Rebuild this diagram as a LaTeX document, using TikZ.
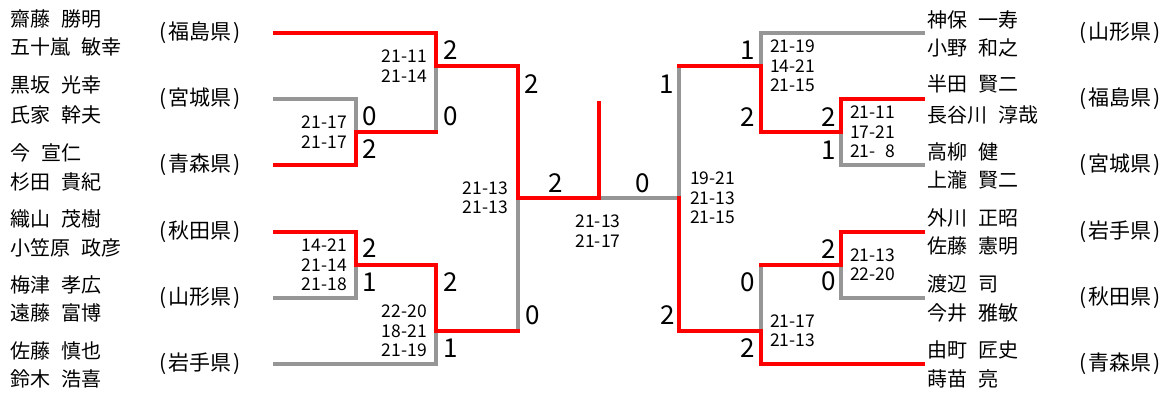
\documentclass[tikz,border=0pt]{standalone}
\usepackage{fontspec}
\setmainfont{Noto Sans CJK JP}
\usepackage{xcolor}
\usepackage{tikz}
\usetikzlibrary{positioning}
\definecolor{wred}{RGB}{255,0,0}
\definecolor{lgray}{RGB}{150,150,150}
\newcommand{\namefont}{\fontsize{20}{22}\selectfont\setlength{\spaceskip}{0.55em}}
\newcommand{\pref}[1]{(\kern2pt#1\kern2pt)}

\begin{document}
\begin{tikzpicture}[x=1pt,y=-1pt,
  won/.style={draw=wred,line width=4pt,line cap=rect},
  lost/.style={draw=lgray,line width=4pt,line cap=rect},
  nm/.style={anchor=west,inner sep=0pt,font=\namefont},
  pf/.style={anchor=west,inner sep=0pt,font=\fontsize{21}{23}\selectfont},
  pts/.style={inner sep=0pt,font=\fontsize{26}{28}\selectfont},
  gs/.style={inner sep=0pt,font=\fontsize{17.5}{19.5}\selectfont},
  gl/.style={gs,align=right}, gr/.style={gs,align=left},
  node distance=9pt]
\useasboundingbox (0,0) rectangle (1171,396);
\coordinate (a1) at (275,33);\coordinate (a2) at (275,99);\coordinate (a3) at (275,165);
\coordinate (a4) at (275,232);\coordinate (a5) at (275,298);\coordinate (a6) at (275,364);
\coordinate (b1) at (923,33);\coordinate (b2) at (923,99);\coordinate (b3) at (923,165);
\coordinate (b4) at (923,232);\coordinate (b5) at (923,298);\coordinate (b6) at (923,364);
\coordinate (m1) at (356,132);\coordinate (m2) at (436,66);
\coordinate (m3) at (356,265);\coordinate (m4) at (436,331);
\coordinate (m5) at (518,198);\coordinate (fn) at (599,198);\coordinate (cup) at (599,103);
\coordinate (m6) at (679,198);\coordinate (m7) at (761,66);\coordinate (m8) at (841,132);
\coordinate (m9) at (841,265);\coordinate (m10) at (761,331);
% losers first, winners on top
\draw[lost](a2)-|(m1);\draw[lost](m1-|m2)--(m2);
\draw[lost](a5)-|(m3);\draw[lost](a6)-|(m4);\draw[lost](m4-|m5)--(m5);
\draw[lost](m6)--(fn);
\draw[lost](b1)-|(m7);\draw[lost](b3)-|(m8);\draw[lost](m6|-m7)--(m6);
\draw[lost](b5)-|(m9);\draw[lost](m9-|m10)--(m10);
\draw[won](a1)-|(m2)-|(m5)--(fn)--(cup);
\draw[won](a3)-|(m1)--(m1-|m2);
\draw[won](a4)-|(m3)-|(m4)--(m4-|m5);
\draw[won](b2)-|(m8)-|(m7)--(m6|-m7);
\draw[won](b4)-|(m9)--(m9-|m10);
\draw[won](b6)-|(m10)-|(m6);
% players
\node[nm] (l1a) at (10,19) {齋藤 勝明};
\node[nm] (l1b) at (10,47) {五十嵐 敏幸};
\node[nm] (l2a) at (10,85) {黒坂 光幸};
\node[nm] (l2b) at (10,115) {氏家 幹夫};
\node[nm] (l3a) at (10,153) {今 宣仁};
\node[nm] (l3b) at (10,182) {杉田 貴紀};
\node[nm] (l4a) at (10,219) {織山 茂樹};
\node[nm] (l4b) at (10,248) {小笠原 政彦};
\node[nm] (l5a) at (10,285) {梅津 孝広};
\node[nm] (l5b) at (10,313) {遠藤 富博};
\node[nm] (l6a) at (10,351) {佐藤 慎也};
\node[nm] (l6b) at (10,379) {鈴木 浩喜};
\node[nm] (r1a) at (927,20) {神保 一寿};
\node[nm] (r1b) at (927,48) {小野 和之};
\node[nm] (r2a) at (927,84) {半田 賢二};
\node[nm] (r2b) at (927,115) {長谷川 淳哉};
\node[nm] (r3a) at (927,152) {高柳 健};
\node[nm] (r3b) at (927,180) {上瀧 賢二};
\node[nm] (r4a) at (927,218) {外川 正昭};
\node[nm] (r4b) at (927,246) {佐藤 憲明};
\node[nm] (r5a) at (927,284) {渡辺 司};
\node[nm] (r5b) at (927,313) {今井 雅敏};
\node[nm] (r6a) at (927,350) {由町 匠史};
\node[nm] (r6b) at (927,379) {蒔苗 亮};
% prefectures
\node[pf] (lp1) at (159,33) {\pref{福島県}};
\node[pf] (lp2) at (159,99) {\pref{宮城県}};
\node[pf] (lp3) at (159,165) {\pref{青森県}};
\node[pf] (lp4) at (159,232) {\pref{秋田県}};
\node[pf] (lp5) at (159,298) {\pref{山形県}};
\node[pf] (lp6) at (159,364) {\pref{岩手県}};
\node[pf] (rp1) at (1079,33) {\pref{山形県}};
\node[pf] (rp2) at (1079,99) {\pref{福島県}};
\node[pf] (rp3) at (1079,165) {\pref{宮城県}};
\node[pf] (rp4) at (1079,232) {\pref{岩手県}};
\node[pf] (rp5) at (1079,298) {\pref{秋田県}};
\node[pf] (rp6) at (1079,364) {\pref{青森県}};
% games won
\node[pts] (p1a) at (370,116) {0};\node[pts] (p1b) at (370,149) {2};
\node[pts] (p2a) at (451,50) {2};\node[pts] (p2b) at (451,116) {0};
\node[pts] (p3a) at (370,248) {2};\node[pts] (p3b) at (370,282) {1};
\node[pts] (p4a) at (451,282) {2};\node[pts] (p4b) at (451,348) {1};
\node[pts] (p5a) at (532,84) {2};\node[pts] (p5b) at (533,315) {0};
\node[pts] (pfa) at (556,183) {2};\node[pts] (pfb) at (643,183) {0};
\node[pts] (p6a) at (667,84) {1};\node[pts] (p6b) at (668,315) {2};
\node[pts] (p7a) at (748,50) {1};\node[pts] (p7b) at (748,117) {2};
\node[pts] (p8a) at (829,117) {2};\node[pts] (p8b) at (829,150) {1};
\node[pts] (p9a) at (829,249) {2};\node[pts] (p9b) at (829,281) {0};
\node[pts] (p10a) at (748,282) {0};\node[pts] (p10b) at (748,348) {2};
% game scores
\node[gl,left=of m1] (s1) {21-17\\21-17};
\node[gl,left=of m2] (s2) {21-11\\21-14};
\node[gl,left=of m3] (s3) {14-21\\21-14\\21-18};
\node[gl,left=of m4] (s4) {22-20\\18-21\\21-19};
\node[gl,left=10pt of m5] (s5) {21-13\\21-13};
\node[gs,align=center] (sf) at (598,231) {21-13\\21-17};
\node[gr,right=11pt of m6] (s6) {19-21\\21-13\\21-15};
\node[gr,right=of m7] (s7) {21-19\\14-21\\21-15};
\node[gr,right=of m8] (s8) {21-11\\17-21\\21-\hphantom{0}8};
\node[gr,right=of m9] (s9) {21-13\\22-20};
\node[gr,right=of m10] (s10) {21-17\\21-13};
\end{tikzpicture}
\end{document}
